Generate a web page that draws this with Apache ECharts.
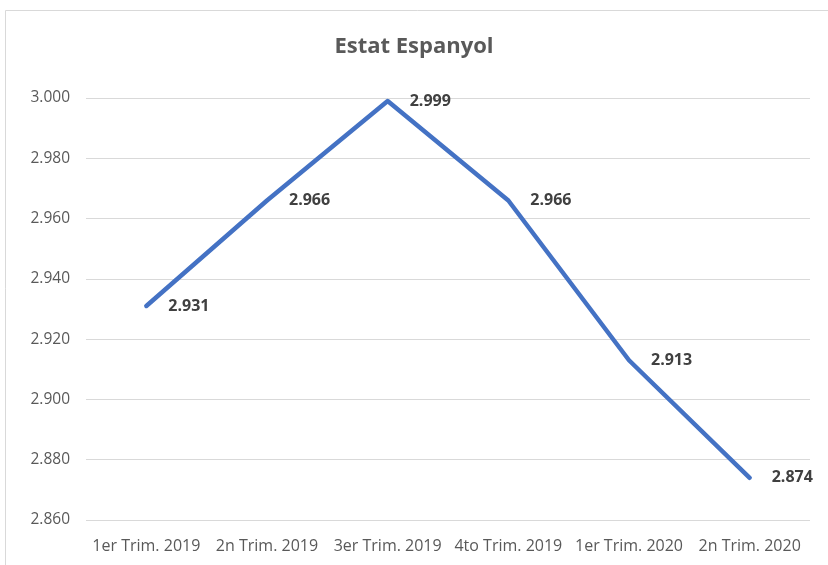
<!DOCTYPE html>
<html>
<head>
<meta charset="utf-8">
<script src="https://cdn.jsdelivr.net/npm/echarts@6/dist/echarts.min.js"></script>
<style>
  html, body { margin: 0; padding: 0; background: #fff; }
  #chart { width: 828px; height: 565px; }
</style>
</head>
<body>
<div id="chart"></div>
<script>
// dades
const categories = ['1er Trim. 2019', '2n Trim. 2019', '3er Trim. 2019', '4to Trim. 2019', '1er Trim. 2020', '2n Trim. 2020'];
const values = [2931, 2966, 2999, 2966, 2913, 2874];
const yMin = 2860, yMax = 3000, yStep = 20;

// format català: punt com a separador de milers
const fmt = v => String(v).replace(/\B(?=(\d{3})+(?!\d))/g, '.');

const FONT = '"Open Sans"';
const myChart = echarts.init(document.getElementById('chart'));

myChart.setOption({
  animation: false,
  backgroundColor: '#fff',
  title: {
    text: 'Estat Espanyol',
    left: 'center',
    top: 31,
    textStyle: { fontFamily: FONT, fontSize: 22, fontWeight: 'bold', color: '#595959' }
  },
  // marc del gràfic
  graphic: [{
    type: 'rect',
    shape: { x: 5.5, y: 10.5, width: 840, height: 600 },
    style: { fill: 'none', stroke: '#d9d9d9', lineWidth: 1 },
    silent: true
  }],
  grid: { left: 86, right: 18, top: 98, bottom: 45 },
  xAxis: {
    type: 'category',
    data: categories,
    boundaryGap: true,
    axisLine: { show: false },
    axisTick: { show: false },
    axisLabel: { fontFamily: FONT, fontSize: 16, color: '#595959', margin: 18, interval: 0 }
  },
  yAxis: {
    type: 'value',
    min: yMin,
    max: yMax,
    interval: yStep,
    axisLine: { show: false },
    axisTick: { show: false },
    axisLabel: { fontFamily: FONT, fontSize: 15.5, color: '#595959', margin: 16, formatter: fmt },
    splitLine: { lineStyle: { color: '#d9d9d9', width: 1 } }
  },
  series: [{
    type: 'line',
    data: values,
    showSymbol: true,
    symbol: 'circle',
    symbolSize: 2,
    itemStyle: { color: 'rgba(0,0,0,0)', borderWidth: 0 },
    lineStyle: { color: '#4472C4', width: 4.5, cap: 'round', join: 'round' },
    label: {
      show: true,
      position: 'right',
      distance: 21,
      formatter: p => fmt(p.value),
      fontFamily: FONT,
      fontSize: 16,
      fontWeight: 'bold',
      color: '#404040',
      opacity: 1
    }
  }]
});
</script>
</body>
</html>
